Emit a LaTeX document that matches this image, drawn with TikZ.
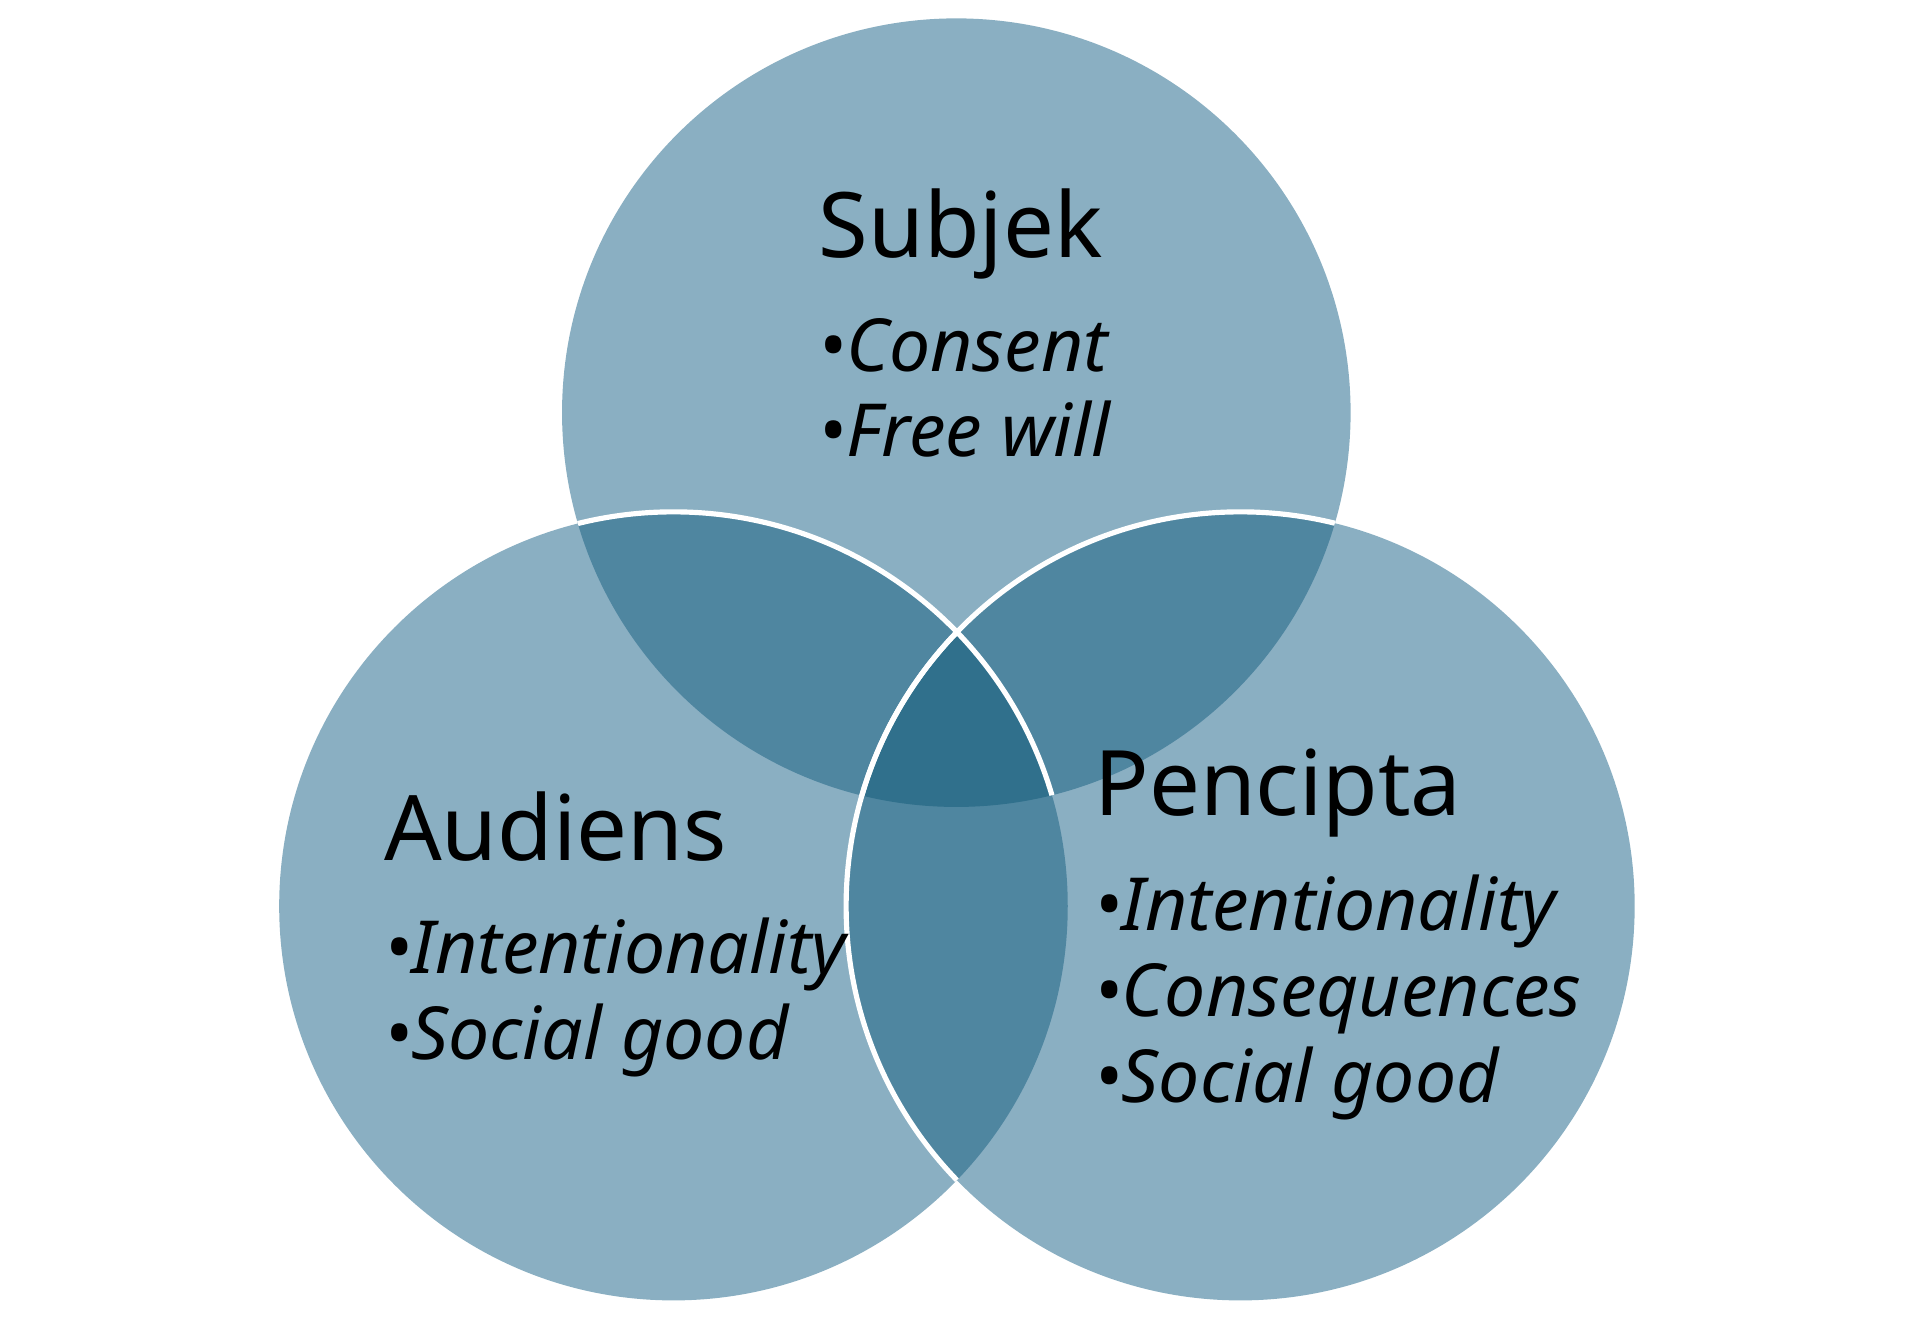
\documentclass[tikz,border=0pt]{standalone}
\usepackage{fontspec}
\setmainfont{Noto Sans}
\begin{document}
\begin{tikzpicture}[x=0.01cm,y=-0.01cm,
 head/.style={anchor=base west,inner sep=0,font=\fontsize{21}{24}\selectfont},
 item/.style={anchor=base west,inner sep=0,font=\fontsize{17}{20}\selectfont\itshape},
 ring/.style={draw=white,line width=1.2pt}]
\definecolor{c1}{HTML}{8AAFC2}\definecolor{c2}{HTML}{4F86A0}\definecolor{c3}{HTML}{30708C}
\useasboundingbox (0,0) rectangle (1568,1084);
\coordinate (T) at (781,337); \coordinate (L) at (550,740); \coordinate (R) at (1013,740);
\def\r{322}
\fill[c1] (T) circle (\r); \fill[c1] (L) circle (\r); \fill[c1] (R) circle (\r);
\begin{scope}\clip (T) circle (\r); \fill[c2] (L) circle (\r); \fill[c2] (R) circle (\r);\end{scope}
\begin{scope}\clip (L) circle (\r); \fill[c2] (R) circle (\r);\end{scope}
\begin{scope}\clip (T) circle (\r); \clip (L) circle (\r); \fill[c3] (R) circle (\r);\end{scope}
\begin{scope}\clip (T) circle (\r); \draw[ring] (L) circle (\r); \draw[ring] (R) circle (\r);\end{scope}
\begin{scope}\clip (L) circle (\r); \draw[ring] (R) circle (\r);\end{scope}
\node[head] (s) at (668,210) {Subjek};
\node[item] (s1) at (668,303) {•Consent};
\node[item] (s2) at (668,373) {•Free will};
\node[head] (a) at (313,703) {Audiens};
\node[item] (a1) at (313,795) {•Intentionality};
\node[item] (a2) at (313,865) {•Social good};
\node[head] (p) at (893,666) {Pencipta};
\node[item] (p1) at (893,760) {•Intentionality};
\node[item] (p2) at (893,830) {•Consequences};
\node[item] (p3) at (893,900) {•Social good};
\end{tikzpicture}
\end{document}
